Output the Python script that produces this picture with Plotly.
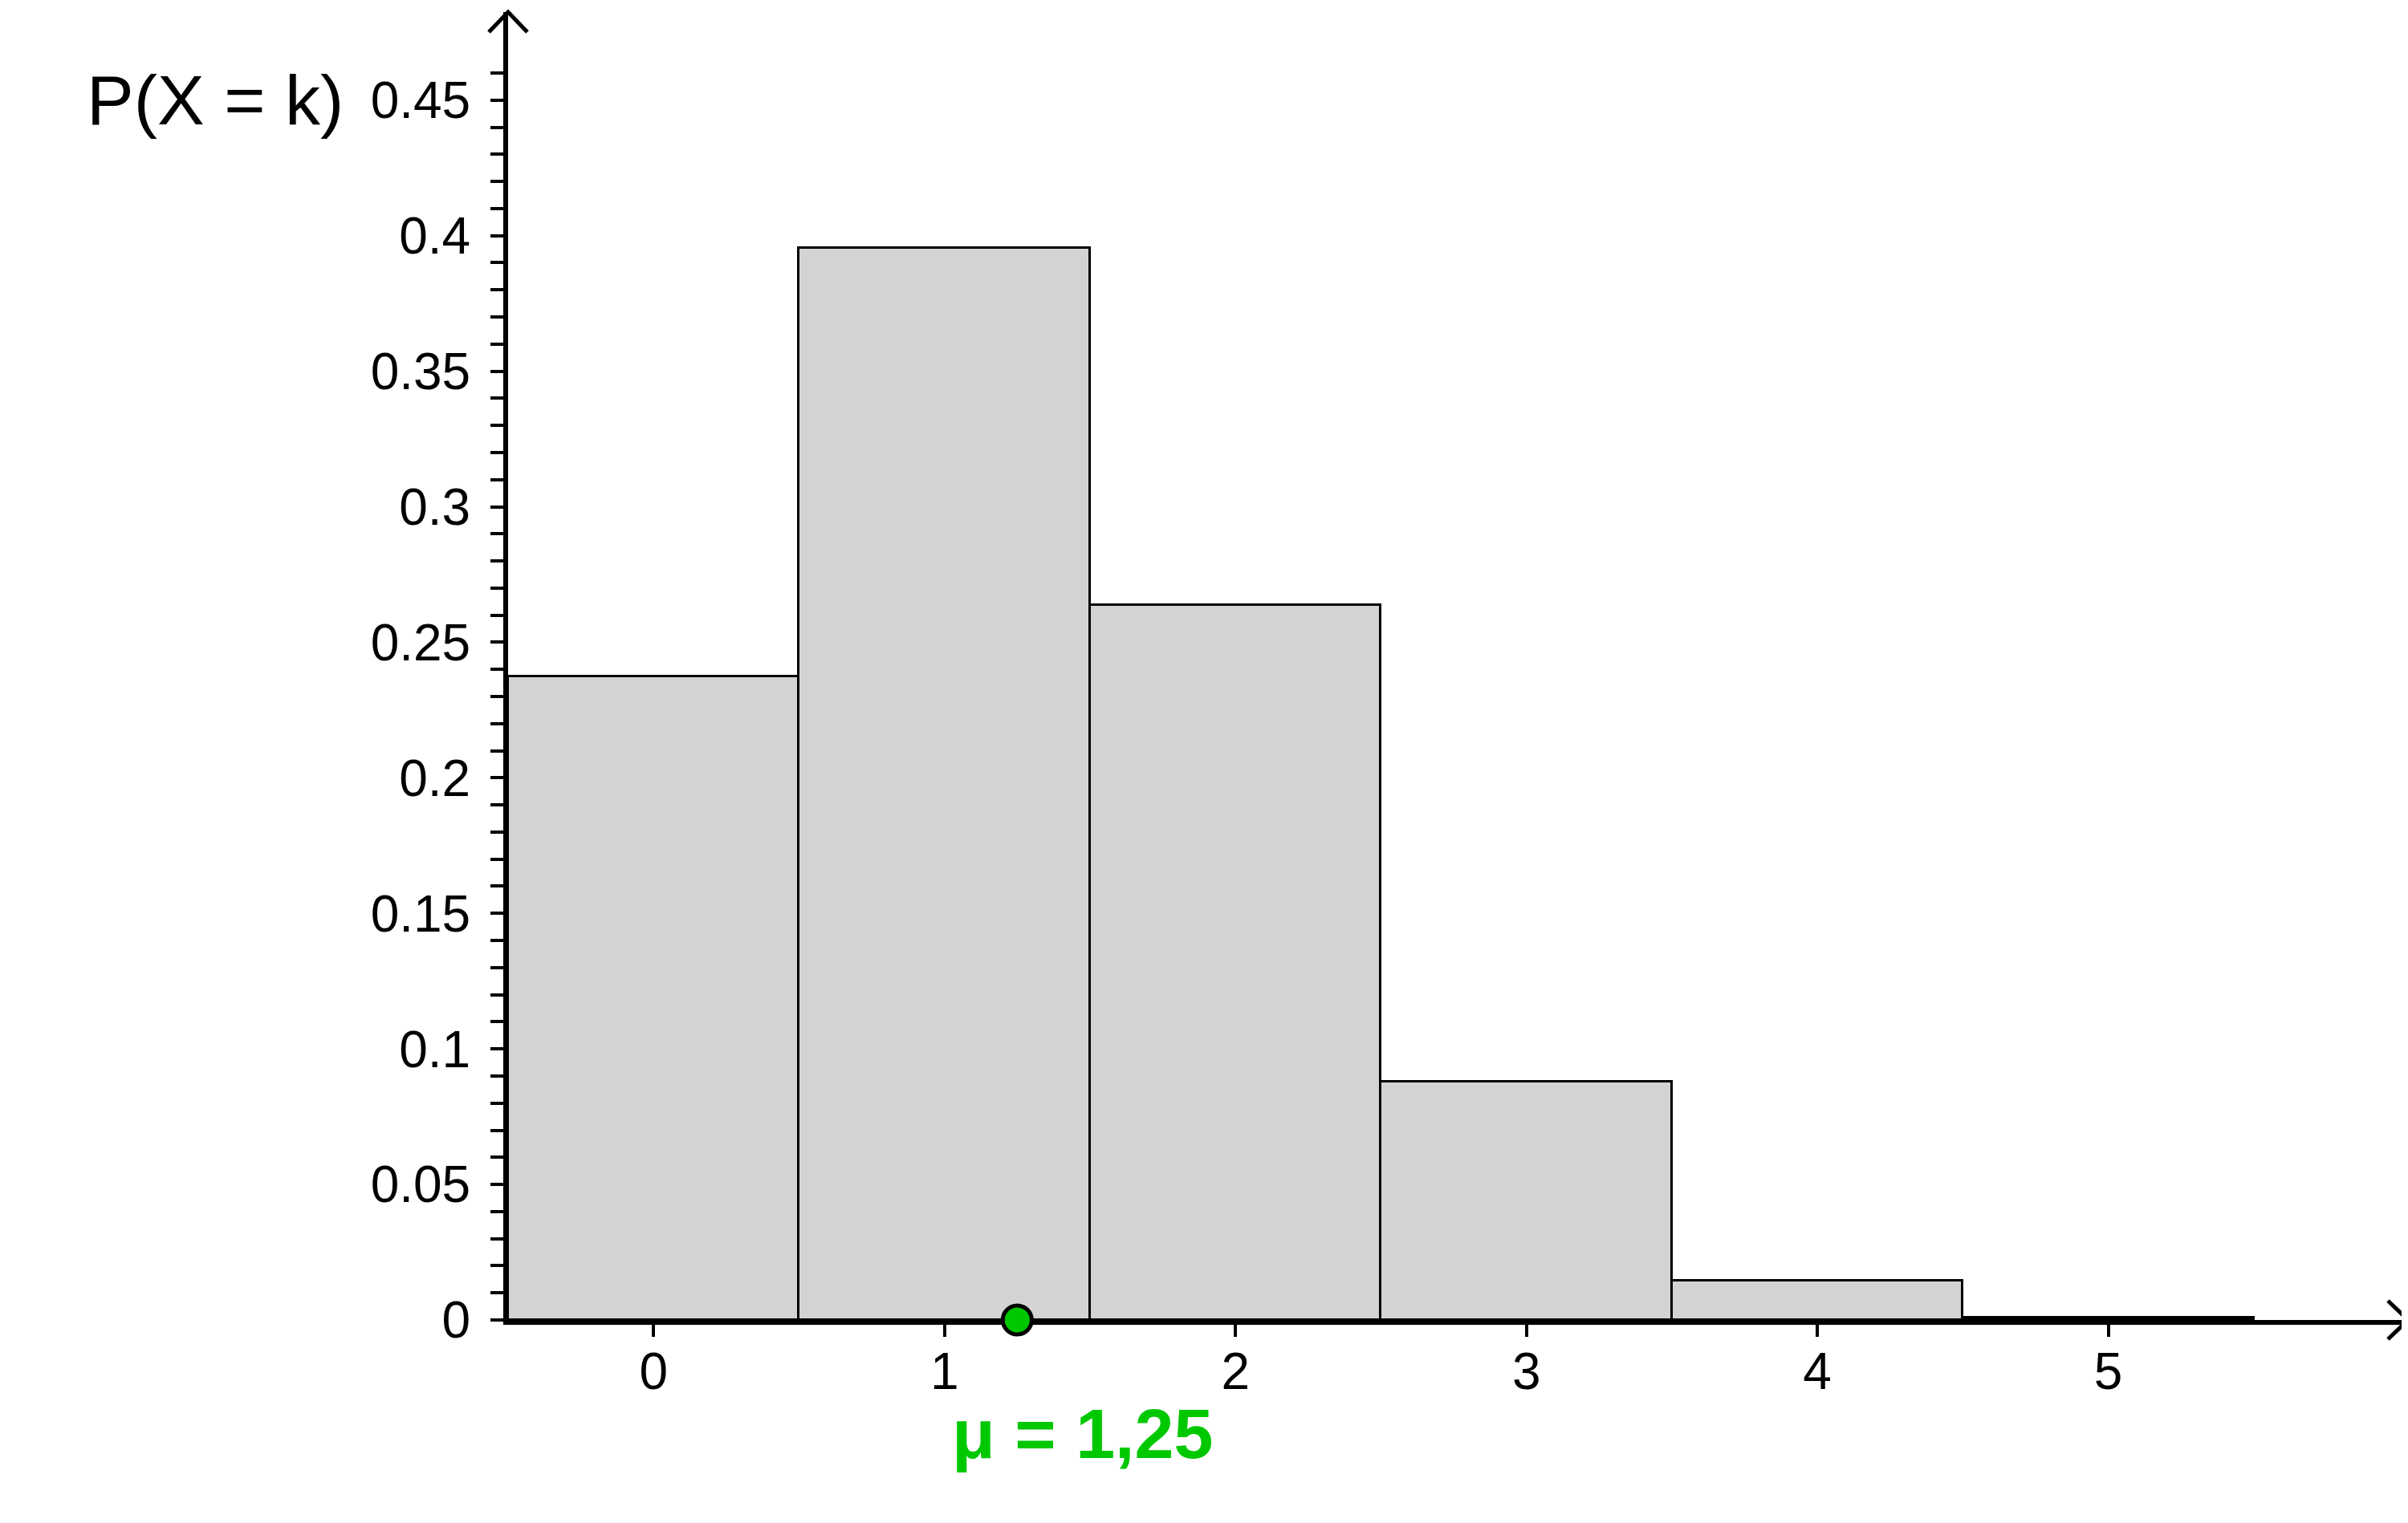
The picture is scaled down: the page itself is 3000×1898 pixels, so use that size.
import plotly.graph_objects as go

# binomial distribution, n = 5, p = 0.25
k_values = [0, 1, 2, 3, 4, 5]
probabilities = [0.2373, 0.3955, 0.2637, 0.0879, 0.0146, 0.0010]
mu = 1.25
y_major_ticks = [0, 0.05, 0.1, 0.15, 0.2, 0.25, 0.3, 0.35, 0.4, 0.45]
y_minor_ticks = [i / 100 for i in range(1, 47)]

FONT = "Liberation Sans, Arial, sans-serif"
GREEN = "#00c800"

fig = go.Figure()

fig.add_trace(
    go.Bar(
        x=k_values,
        y=probabilities,
        width=1,
        marker=dict(color="#d3d3d3", line=dict(color="black", width=3)),
        hoverinfo="x+y",
    )
)

# open arrow heads at the ends of both axes
fig.add_shape(
    type="path", xref="paper", yref="paper", xsizemode="pixel", ysizemode="pixel",
    xanchor=0, yanchor=1, path="M -24,-25 L 0,0 L 24,-25",
    line=dict(color="black", width=5), layer="above",
)
fig.add_shape(
    type="path", xref="paper", yref="paper", xsizemode="pixel", ysizemode="pixel",
    xanchor=1, yanchor=0, path="M -25,24 L 0,0 L -25,-24",
    line=dict(color="black", width=5), layer="above",
)

# mean marker on the x axis
fig.add_shape(
    type="circle", xref="x", yref="paper", xsizemode="pixel", ysizemode="pixel",
    xanchor=mu, yanchor=0, x0=-18, x1=18, y0=-18, y1=18,
    fillcolor=GREEN, line=dict(color="black", width=5), layer="above",
)

fig.add_annotation(
    text="P(X = k)", xref="paper", yref="y", x=0, xshift=-365, y=0.45,
    xanchor="center", yanchor="middle", showarrow=False,
    font=dict(family=FONT, size=88, color="black"),
)
fig.add_annotation(
    text="<b>μ = %s</b>" % str(mu).replace(".", ","), xref="x", yref="paper",
    x=1.02, y=0, xanchor="left", yanchor="middle", yshift=-141, showarrow=False,
    font=dict(family=FONT, size=88, color=GREEN),
)

fig.update_xaxes(
    range=[-0.5, 6.03],
    tickvals=k_values,
    ticks="outside", ticklen=15, tickwidth=4, tickcolor="black",
    ticklabelstandoff=-12,
    showline=True, linewidth=6, linecolor="black",
    showgrid=False, zeroline=False,
    tickfont=dict(family=FONT, size=64, color="black"),
)
fig.update_yaxes(
    range=[0, 0.4825],
    tickvals=y_major_ticks,
    ticks="outside", ticklen=16, tickwidth=4, tickcolor="black",
    minor=dict(tickvals=y_minor_ticks, ticks="outside", ticklen=16, tickwidth=4, tickcolor="black"),
    ticklabelstandoff=12,
    showline=True, linewidth=6, linecolor="black",
    showgrid=False, zeroline=False,
    tickfont=dict(family=FONT, size=64, color="black"),
)

fig.update_layout(
    width=3000, height=1898,
    margin=dict(l=625, r=8, t=7, b=261),
    plot_bgcolor="white", paper_bgcolor="white",
    showlegend=False, bargap=0,
)

fig.write_html("out.html")
